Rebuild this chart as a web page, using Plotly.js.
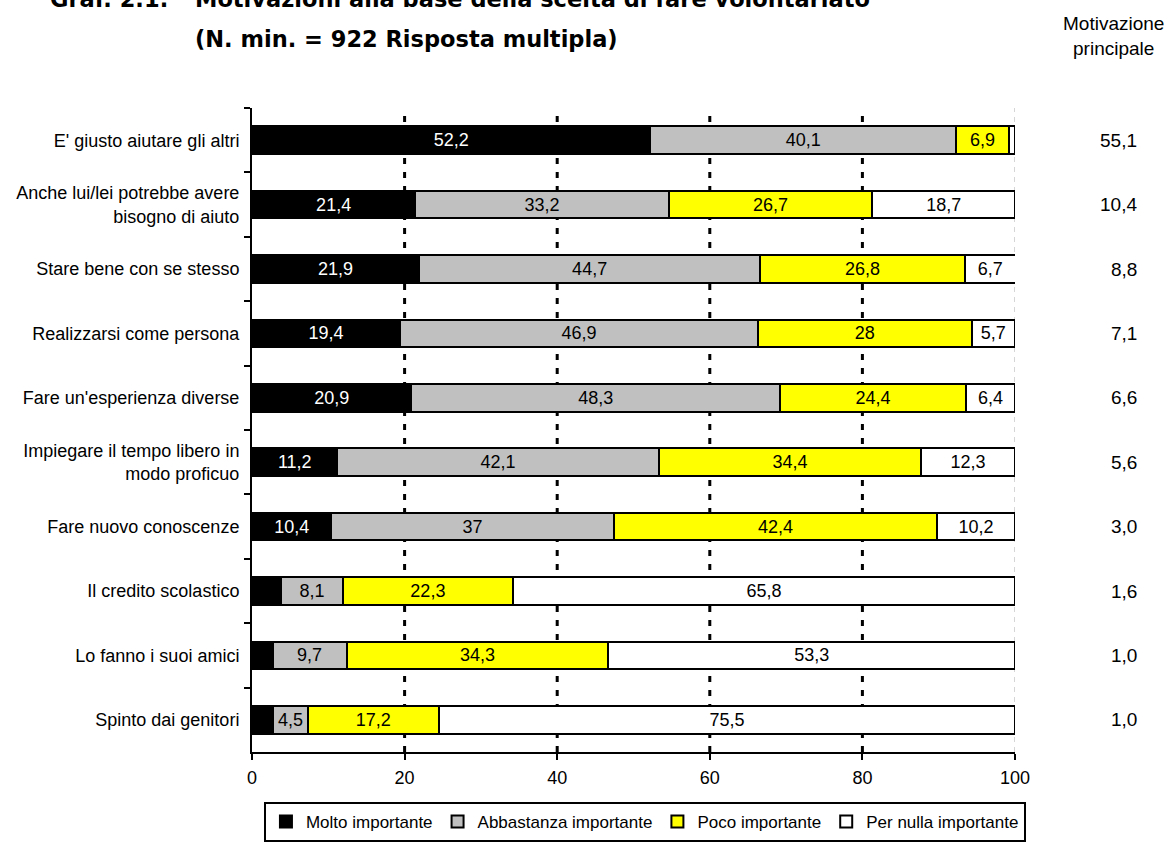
<!DOCTYPE html>
<html>
<head>
<meta charset="utf-8">
<script src="https://cdn.plot.ly/plotly-3.0.1.min.js"></script>
<style>html,body{margin:0;padding:0;background:#fff;}#chart{width:1171px;height:845px;}</style>
</head>
<body>
<div id="chart"></div>
<script>
const categories = [
  "E' giusto aiutare gli altri",
  "Anche lui/lei potrebbe avere<br>bisogno di aiuto",
  "Stare bene con se stesso",
  "Realizzarsi come persona",
  "Fare un'esperienza diverse",
  "Impiegare il tempo libero in<br>modo proficuo",
  "Fare nuovo conoscenze",
  "Il credito scolastico",
  "Lo fanno i suoi amici",
  "Spinto dai genitori"
];
const molto = [52.2, 21.4, 21.9, 19.4, 20.9, 11.2, 10.4, 3.8, 2.7, 2.8];
const abbastanza = [40.1, 33.2, 44.7, 46.9, 48.3, 42.1, 37, 8.1, 9.7, 4.5];
const poco = [6.9, 26.7, 26.8, 28, 24.4, 34.4, 42.4, 22.3, 34.3, 17.2];
const perNulla = [0.8, 18.7, 6.7, 5.7, 6.4, 12.3, 10.2, 65.8, 53.3, 75.5];
const principale = ["55,1", "10,4", "8,8", "7,1", "6,6", "5,6", "3,0", "1,6", "1,0", "1,0"];
const seriesNames = ["Molto importante", "Abbastanza importante", "Poco importante", "Per nulla importante"];
const xTicks = [0, 20, 40, 60, 80, 100];
const dottedGrid = [20, 40, 60, 80];
const dashedGrid = [100];

const FONT = "Liberation Sans, Arial, sans-serif";
const TITLE_FONT = "DejaVu Sans, sans-serif";
const fmt = v => v < 4 ? "" : String(v).replace(".", ",");

function barTrace(vals, name, fill, txtColor) {
  return {
    type: "bar", orientation: "h", name: name,
    x: vals, y: categories,
    text: vals.map(fmt), textposition: "inside", insidetextanchor: "middle",
    textangle: 0, constraintext: "none",
    textfont: {family: FONT, size: 18, color: txtColor},
    marker: {color: fill, line: {color: "#000", width: 2}},
    hoverinfo: "x+name"
  };
}

const data = [
  barTrace(molto, seriesNames[0], "#000000", "#ffffff"),
  barTrace(abbastanza, seriesNames[1], "#c0c0c0", "#000000"),
  barTrace(poco, seriesNames[2], "#ffff00", "#000000"),
  barTrace(perNulla, seriesNames[3], "#ffffff", "#000000")
];

const shapes = [];
dottedGrid.forEach(v => shapes.push({
  type: "line", xref: "x", yref: "paper", x0: v, x1: v, y0: 0, y1: 1, layer: "below",
  line: {color: "#000", width: 3, dash: "6px,8px"}
}));
dashedGrid.forEach(v => shapes.push({
  type: "line", xref: "x", yref: "paper", x0: v, x1: v, y0: 0, y1: 1, layer: "below",
  line: {color: "#aaaaaa", width: 1, dash: "5px,5px"}
}));

const annotations = [];
categories.forEach((c, i) => {
  annotations.push({
    xref: "paper", yref: "y", x: 1, y: c, xshift: 124, xanchor: "right",
    text: principale[i], showarrow: false,
    font: {family: FONT, size: 19, color: "#000"}
  });
});
annotations.push({
  xref: "paper", yref: "paper", x: 1, y: 1, xshift: 98, yshift: 72, xanchor: "center", yanchor: "middle",
  text: "Motivazione<br>principale", showarrow: false, align: "center",
  font: {family: FONT, size: 19, color: "#000"}
});
annotations.push({
  xref: "paper", yref: "paper", x: 0, y: 1, xshift: -59, yshift: 69, xanchor: "left", yanchor: "middle",
  text: "<b>(N. min. = 922 Risposta multipla)</b>", showarrow: false,
  font: {family: TITLE_FONT, size: 22.5, color: "#000"}
});
annotations.push({
  xref: "paper", yref: "paper", x: 0, y: 1, xshift: -59, yshift: 109, xanchor: "left", yanchor: "middle",
  text: "<b>Motivazioni alla base della scelta di fare volontariato</b>", showarrow: false,
  font: {family: TITLE_FONT, size: 22.5, color: "#000"}
});
annotations.push({
  xref: "paper", yref: "paper", x: 0, y: 1, xshift: -204, yshift: 109, xanchor: "left", yanchor: "middle",
  text: "<b>Graf. 2.1:</b>", showarrow: false,
  font: {family: TITLE_FONT, size: 22.5, color: "#000"}
});

const layout = {
  width: 1171, height: 845,
  margin: {l: 252, r: 156, t: 108, b: 93},
  paper_bgcolor: "#fff", plot_bgcolor: "#fff",
  barmode: "stack", bargap: 0.57,
  uniformtext: {mode: "show", minsize: 18},
  showlegend: true,
  legend: {
    orientation: "h", xref: "paper", x: 0.515, xanchor: "center",
    yref: "container", y: 0.051, yanchor: "top",
    bordercolor: "#000", borderwidth: 2, bgcolor: "#fff",
    font: {family: FONT, size: 17, color: "#000"},
    traceorder: "normal", itemwidth: 20, tracegroupgap: 0
  },
  xaxis: {
    range: [0, 100], tickvals: xTicks, ticktext: xTicks.map(String),
    showgrid: false, zeroline: false,
    showline: true, linecolor: "#000", linewidth: 2,
    ticks: "outside", ticklen: 6, tickwidth: 2, tickcolor: "#000",
    ticklabelstandoff: 2,
    tickfont: {family: FONT, size: 18, color: "#000"}, fixedrange: true
  },
  yaxis: {
    type: "category", autorange: "reversed",
    showline: true, linecolor: "#000", linewidth: 2,
    ticks: "outside", tickson: "boundaries", ticklen: 6, tickwidth: 2, tickcolor: "#000",
    ticklabelstandoff: 7,
    showgrid: false, zeroline: false,
    tickfont: {family: FONT, size: 18, color: "#000"}, fixedrange: true
  },
  shapes: shapes,
  annotations: annotations,
  font: {family: FONT, color: "#000"}
};

Plotly.newPlot("chart", data, layout, {displayModeBar: false, staticPlot: true});
</script>
</body>
</html>
